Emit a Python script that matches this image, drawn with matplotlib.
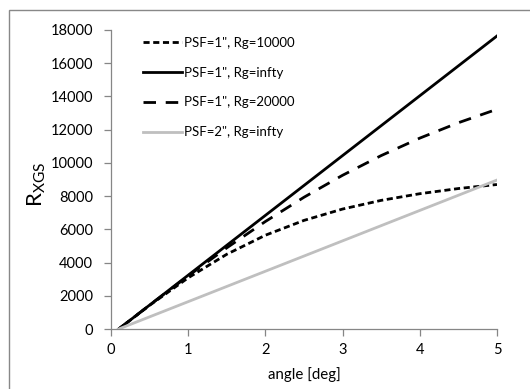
import matplotlib
matplotlib.use('Agg')
import matplotlib.pyplot as plt
from matplotlib.patches import Rectangle

plt.rcParams['font.family'] = ['Lato', 'DejaVu Sans']
plt.rcParams['mathtext.fontset'] = 'custom'
plt.rcParams['mathtext.rm'] = 'Lato'
plt.rcParams['mathtext.it'] = 'Lato:italic'

angle = [0.1, 0.5, 1.0, 1.5, 2.0, 2.5, 3.0, 3.5, 4.0, 4.5, 5.0]
r_psf1_rg10000 = [0, 1425, 3082, 4500, 5646, 6538, 7222, 7744, 8145, 8456, 8699]
r_psf1_inf = [0, 1440, 3240, 5040, 6840, 8640, 10440, 12240, 14040, 15840, 17640]
r_psf1_rg20000 = [0, 1436, 3198, 4887, 6472, 7932, 9255, 10440, 11491, 12417, 13229]
r_psf2_inf = [0, 732, 1647, 2562, 3477, 4392, 5307, 6222, 7137, 8052, 8967]

labels = ['PSF=1", Rg=10000', 'PSF=1", Rg=infty',
          'PSF=1", Rg=20000', 'PSF=2", Rg=infty']

fig = plt.figure(figsize=(5.3, 3.89), dpi=100)
ax = fig.add_axes([0.2094, 0.1542, 0.7283, 0.7687])

ax.plot(angle, r_psf1_rg10000, color='black', lw=2.0, dashes=(2.2, 1.3), label=labels[0])
ax.plot(angle, r_psf1_inf, color='black', lw=2.0, label=labels[1])
ax.plot(angle, r_psf1_rg20000, color='black', lw=2.0, dashes=(4.5, 3.5), label=labels[2])
ax.plot(angle, r_psf2_inf, color='#bfbfbf', lw=2.0, label=labels[3])

ax.set_xlim(0, 5)
ax.set_ylim(0, 18000)
ax.set_xticks(range(0, 6))
ax.set_yticks(range(0, 18001, 2000))

for s in ['top', 'right']:
    ax.spines[s].set_visible(False)
for s in ['left', 'bottom']:
    ax.spines[s].set_color('#868686')
    ax.spines[s].set_linewidth(0.9)
ax.tick_params(axis='both', color='#868686', length=5, width=0.9, labelsize=10.5)
ax.tick_params(axis='y', pad=8)
ax.tick_params(axis='x', pad=5)

ax.set_xlabel('angle [deg]', fontsize=10.8, labelpad=7)
ax.set_ylabel(r'R$_{\mathrm{XGS}}$', fontsize=16)
ax.yaxis.set_label_coords(-0.163, 0.485)

leg = ax.legend(loc='upper left', bbox_to_anchor=(0.07, 0.995), frameon=False,
                fontsize=9.5, handlelength=2.9, handletextpad=0.15, labelspacing=1.35,
                borderaxespad=0)

# outer chart border
fig.patches.append(Rectangle((9 / 530, -0.1), 1.2, 1 - 10 / 389 + 0.1,
                             transform=fig.transFigure, fill=False,
                             edgecolor='#888888', lw=1.0))

fig.savefig('out.png', dpi=100)
